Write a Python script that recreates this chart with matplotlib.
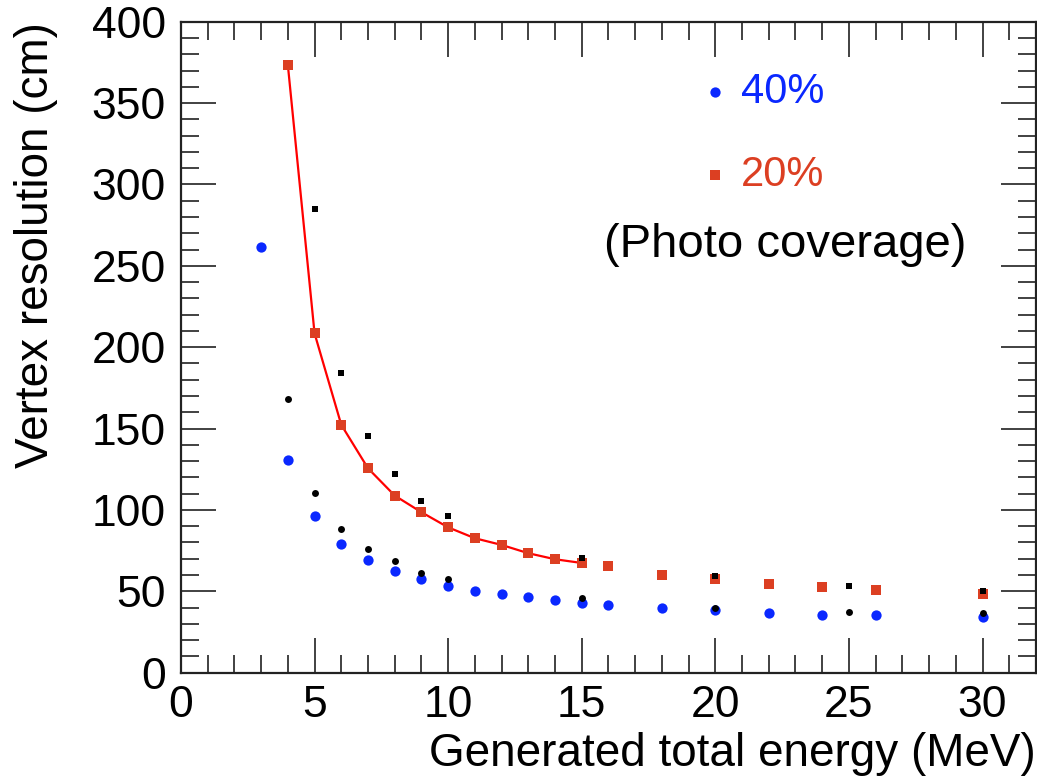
import matplotlib
matplotlib.use("Agg")
import matplotlib.pyplot as plt
from matplotlib.ticker import MultipleLocator

plt.rcParams["font.family"] = ["Liberation Sans", "DejaVu Sans"]

# vertex resolution vs generated energy, 20% and 40% photo coverage
energy_20 = [4, 5, 6, 7, 8, 9, 10, 11, 12, 13, 14, 15, 16, 18, 20, 22, 24, 26, 30]
res_20 = [373.5, 208.5, 152.3, 125.6, 108.8, 98.6, 89.3, 82.6, 78.5, 73.4, 69.7, 67.4,
          65.5, 60.3, 57.4, 54.3, 52.5, 50.5, 48.6]

energy_40 = [3, 4, 5, 6, 7, 8, 9, 10, 11, 12, 13, 14, 15, 16, 18, 20, 22, 24, 26, 30]
res_40 = [261.6, 130.7, 96.3, 79.3, 69.4, 62.7, 57.4, 53.3, 50.4, 48.5, 46.7, 44.5, 43.0,
          41.4, 39.8, 38.3, 36.7, 35.5, 35.5, 34.2]

# reference points (black)
energy_ref_sq = [5, 6, 7, 8, 9, 10, 15, 20, 25, 30]
res_ref_sq = [285.2, 184.3, 145.2, 122.3, 105.5, 96.3, 70.5, 59.6, 53.3, 50.4]
energy_ref_dot = [4, 5, 6, 7, 8, 9, 10, 15, 20, 25, 30]
res_ref_dot = [168.2, 110.4, 88.5, 76.2, 68.4, 61.4, 57.4, 45.7, 39.6, 37.1, 36.5]

# curve through the 20% points, 4-15 MeV
curve_n = 12

red_mk = "#dc3f22"
blue_mk = "#0a28ff"

fig = plt.figure(figsize=(10.37, 7.83), dpi=100)
ax = fig.add_axes([0.1745, 0.1409, 0.8245, 0.8314])

ax.plot(energy_20[:curve_n], res_20[:curve_n], color="red", lw=1.6, zorder=2)
ax.plot(energy_20, res_20, ls="none", marker="s", ms=7.0, color=red_mk, mew=0, zorder=3)
ax.plot(energy_40, res_40, ls="none", marker="o", ms=7.4, color=blue_mk, mew=0, zorder=3)
ax.plot(energy_ref_sq, res_ref_sq, ls="none", marker="s", ms=4.6, color="black", mew=0, zorder=4)
ax.plot(energy_ref_dot, res_ref_dot, ls="none", marker="o", ms=5.0, color="black", mew=0, zorder=4)

ax.set_xlim(0, 32)
ax.set_ylim(0, 400)
ax.xaxis.set_major_locator(MultipleLocator(5))
ax.xaxis.set_minor_locator(MultipleLocator(1))
ax.yaxis.set_major_locator(MultipleLocator(50))
ax.yaxis.set_minor_locator(MultipleLocator(10))

ax.tick_params(which="both", direction="in", top=True, right=True, color="#333333", width=1.3)
ax.tick_params(which="major", length=25, labelsize=32)
ax.tick_params(which="minor", length=13)
ax.tick_params(axis="x", which="major", pad=9)
ax.tick_params(axis="y", which="major", pad=11)
for sp in ax.spines.values():
    sp.set_linewidth(1.6)
    sp.set_color("#222222")

ax.set_xlabel("Generated total energy (MeV)", fontsize=33, loc="right", labelpad=4)
ax.set_ylabel("Vertex resolution (cm)", fontsize=33, loc="top", labelpad=24)

# legend drawn as markers + coloured text
ax.plot([20.0], [357], ls="none", marker="o", ms=7.4, color=blue_mk, mew=0)
ax.text(20.95, 357, "40%", color=blue_mk, fontsize=30, va="center")
ax.plot([20.0], [306], ls="none", marker="s", ms=7.0, color=red_mk, mew=0)
ax.text(20.95, 306, "20%", color=red_mk, fontsize=30, va="center")
ax.text(22.6, 263, "(Photo coverage)", fontsize=34, ha="center", va="center")

fig.savefig("out.png", dpi=100)
